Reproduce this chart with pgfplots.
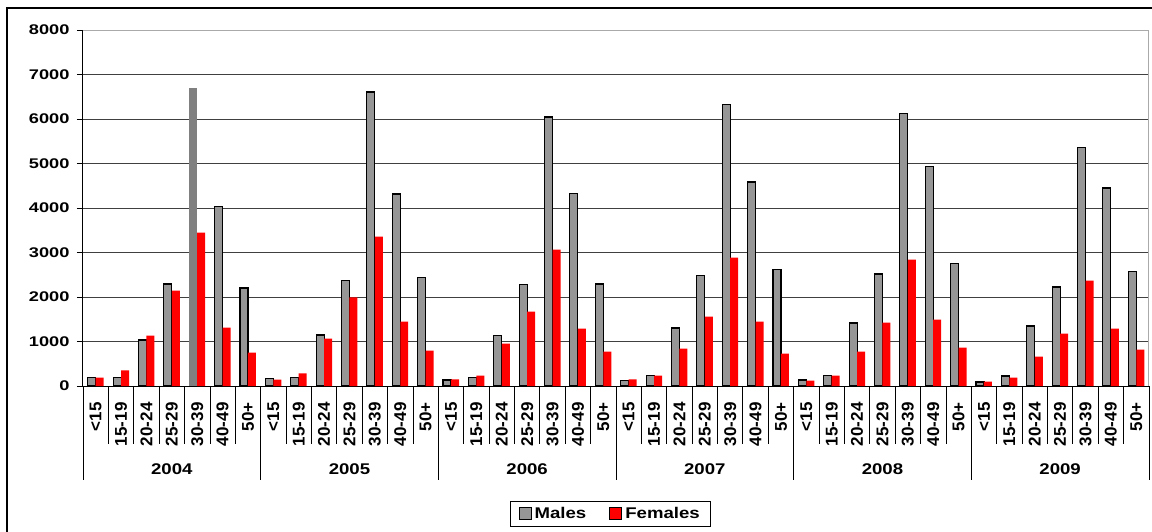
\documentclass[border=0pt]{standalone}
\usepackage{fontspec}
\setmainfont{Liberation Sans}
\newfontfamily\widefont[FakeStretch=1.2]{Liberation Sans}
\newfontfamily\widerfont[FakeStretch=1.3]{Liberation Sans}
\usepackage{pgfplots}
\pgfplotsset{compat=1.18}

\definecolor{mgray}{RGB}{150,150,150}
\definecolor{gridc}{RGB}{64,64,64}
\definecolor{bordc}{RGB}{170,170,170}

\begin{document}
\begin{tikzpicture}
\useasboundingbox (0,0) rectangle (1152pt,531pt);
% outer chart frame (right and bottom edges fall outside the picture)
\draw[line width=1.2pt] (7pt,-10pt) rectangle (1162pt,523pt);

\begin{axis}[
    at={(83pt,145pt)}, anchor=south west,
    scale only axis,
    width=1066pt, height=356pt,
    ybar=0pt,
    bar width=0.315,
    xmin=-0.5, xmax=41.5,
    ymin=0, ymax=8000,
    ytick={0,1000,...,8000},
    xtick={0,...,41},
    xticklabels={<15,15-19,20-24,25-29,30-39,40-49,50+,
                 <15,15-19,20-24,25-29,30-39,40-49,50+,
                 <15,15-19,20-24,25-29,30-39,40-49,50+,
                 <15,15-19,20-24,25-29,30-39,40-49,50+,
                 <15,15-19,20-24,25-29,30-39,40-49,50+,
                 <15,15-19,20-24,25-29,30-39,40-49,50+},
    xtick style={draw=none},
    ytick style={black, line width=0.8pt},
    tick align=outside,
    major tick length=6pt,
    axis x line*=bottom,
    axis y line*=left,
    axis line style={black, line width=1pt},
    ymajorgrids,
    grid style={gridc, line width=1pt},
    /pgf/number format/assume math mode=true,
    /pgf/number format/1000 sep={},
    yticklabel style={font=\widerfont\bfseries\fontsize{14}{15}\selectfont, xshift=-4pt},
    xticklabel style={font=\bfseries\fontsize{17}{18}\selectfont, rotate=90, anchor=east},
    xticklabel shift=7pt,
    clip=false,
    legend image code/.code={\draw[#1] (0pt,-6pt) rectangle (12pt,6pt);},
    legend style={at={(0.495,-0.323)}, anchor=north, legend columns=2,
        draw=black, line width=1pt, inner xsep=8pt, inner ysep=4pt,
        font=\widefont\bfseries\fontsize{15.5}{16}\selectfont,
        /tikz/every even column/.append style={column sep=20pt},
        nodes={inner xsep=3pt}},
]
% Males
\addplot[fill=mgray, draw=black, line width=1.1pt, bar shift=-0.1575] coordinates {
    (0,187) (1,187) (2,1034) (3,2292) (5,4030) (6,2202)
    (7,165) (8,195) (9,1146) (10,2367) (11,6607) (12,4315) (13,2442)
    (14,135) (15,187) (16,1139) (17,2285) (18,6045) (19,4330) (20,2292)
    (21,127) (22,240) (23,1303) (24,2487) (25,6322) (26,4584) (27,2622)
    (28,135) (29,240) (30,1416) (31,2517) (32,6120) (33,4929) (34,2749)
    (35,90) (36,225) (37,1348) (38,2225) (39,5356) (40,4449) (41,2569)
};
\addlegendentry{Males}
% Females
\addplot[fill=red, draw=none, bar shift=0.1575] coordinates {
    (0,187) (1,352) (2,1131) (3,2142) (4,3446) (5,1311) (6,749)
    (7,142) (8,285) (9,1064) (10,1993) (11,3356) (12,1446) (13,794)
    (14,150) (15,232) (16,951) (17,1670) (18,3064) (19,1288) (20,772)
    (21,150) (22,232) (23,839) (24,1558) (25,2884) (26,1446) (27,727)
    (28,120) (29,232) (30,772) (31,1423) (32,2839) (33,1491) (34,861)
    (35,97) (36,187) (37,659) (38,1176) (39,2367) (40,1288) (41,816)
};
\addlegendentry{Females}
% highlighted male bar (2004, 30-39)
\addplot[forget plot, fill=black!50, draw=none, bar shift=-0.1575] coordinates {(4,6704)};

% plot area border (top and right)
\draw[bordc, line width=1pt] (rel axis cs:0,1) -- (rel axis cs:1,1) -- (rel axis cs:1,0);

% category separators
\pgfplotsinvokeforeach{-0.5,0.5,...,41.5}{
    \draw[black, line width=0.8pt] (axis cs:#1,0) -- ++(0pt,-58pt);
}
% year separators
\pgfplotsinvokeforeach{-0.5,6.5,...,41.5}{
    \draw[black, line width=0.8pt] (axis cs:#1,0) -- ++(0pt,-94pt);
}
% year labels
\node[font=\widefont\bfseries\fontsize{15.5}{16}\selectfont, yshift=-83pt] at (axis cs:3,0) {2004};
\node[font=\widefont\bfseries\fontsize{15.5}{16}\selectfont, yshift=-83pt] at (axis cs:10,0) {2005};
\node[font=\widefont\bfseries\fontsize{15.5}{16}\selectfont, yshift=-83pt] at (axis cs:17,0) {2006};
\node[font=\widefont\bfseries\fontsize{15.5}{16}\selectfont, yshift=-83pt] at (axis cs:24,0) {2007};
\node[font=\widefont\bfseries\fontsize{15.5}{16}\selectfont, yshift=-83pt] at (axis cs:31,0) {2008};
\node[font=\widefont\bfseries\fontsize{15.5}{16}\selectfont, yshift=-83pt] at (axis cs:38,0) {2009};
\end{axis}
\end{tikzpicture}
\end{document}
